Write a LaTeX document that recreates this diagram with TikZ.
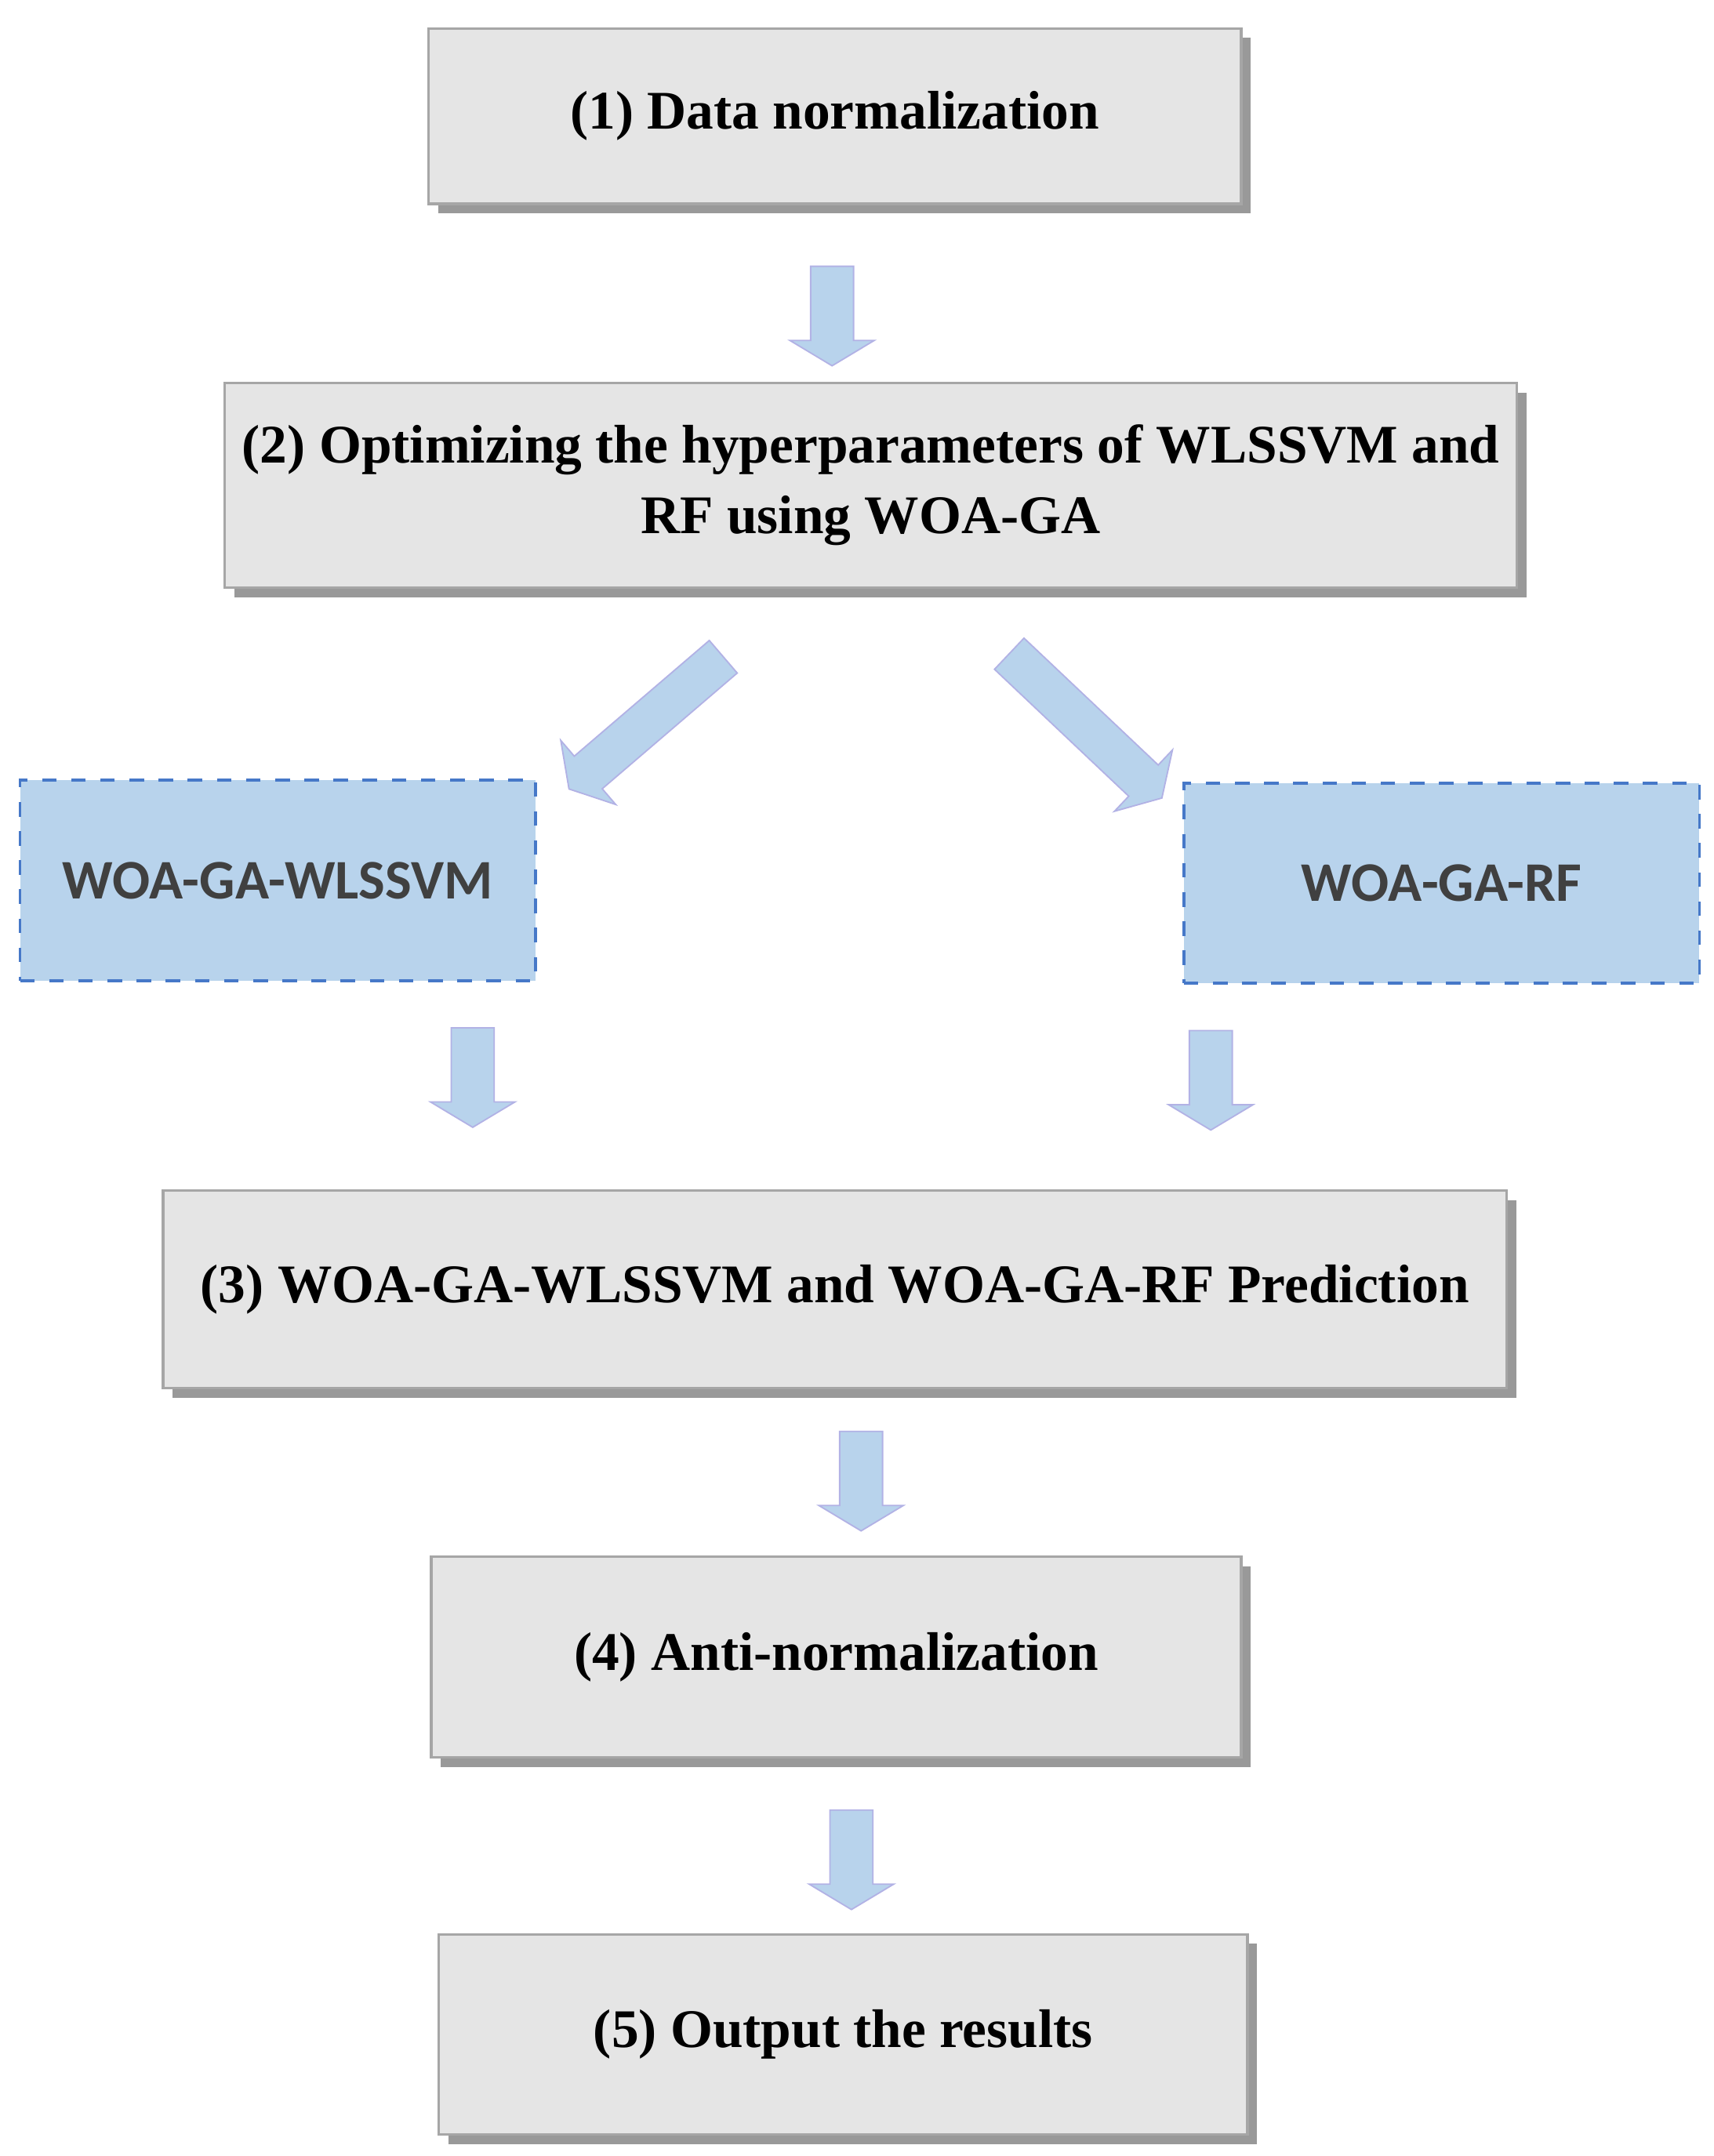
\documentclass[tikz,border=0pt]{standalone}
\usepackage{fontspec}
\setmainfont{Liberation Serif}
\newfontfamily\calib{Carlito}
\usetikzlibrary{shapes.arrows,shadows}
\definecolor{paleblue}{RGB}{184,211,236}
\definecolor{dashblue}{RGB}{70,120,200}
\begin{document}
\begin{tikzpicture}
  [
    x=0.1mm, y=-0.1mm,
    stage/.style={rectangle,draw=gray!70,fill=gray!20,line width=0.5pt,inner sep=1mm,
      font=\bfseries\fontsize{11.2}{14.5}\selectfont,align=center,
      drop shadow={shadow xshift=0.7mm,shadow yshift=-0.7mm,fill=gray!80,opacity=1}},
    model/.style={rectangle,draw=dashblue,dashed,line width=0.6pt,
      fill=paleblue,font=\calib\bfseries\fontsize{11.5}{14}\selectfont,
      text=black!75,minimum width=37.3mm,minimum height=14.5mm},
    flow/.style={single arrow,draw=gray!50!blue!40,fill=paleblue,
      inner sep=1.5mm,single arrow head extend=1.5mm,single arrow tip angle=118,
      minimum height=7.2mm,line width=0.3pt}
  ]
  \useasboundingbox (0,0) rectangle (1240,1560);
  % stages
  \node[stage,minimum width=58.8mm,minimum height=12.7mm] (norm) at (604,84) {(1) Data normalization};
  \node[stage,minimum width=93.5mm,minimum height=14.8mm] (optim) at (630,351)
    {(2) Optimizing the hyperparameters of WLSSVM and\\RF using WOA-GA};
  \node[model] (wlssvm) at (201,637) {WOA-GA-WLSSVM};
  \node[model] (rf) at (1043,639) {WOA-GA-RF};
  \node[stage,minimum width=97.2mm,minimum height=14.3mm] (pred) at (604,933)
    {(3) WOA-GA-WLSSVM and WOA-GA-RF Prediction};
  \node[stage,minimum width=58.6mm,minimum height=14.5mm] (anti) at (605,1199) {(4) Anti-normalization};
  \node[stage,minimum width=58.5mm,minimum height=14.5mm] (out) at (610,1472) {(5) Output the results};
  % arrows
  \node[flow,rotate=-90] (a1) at (602,224) {};
  \node[flow,rotate=220.6,minimum height=14.7mm] (a2) at (471,520) {};
  \node[flow,rotate=-43.4,minimum height=15.2mm] (a3) at (782,522) {};
  \node[flow,rotate=-90] (a4) at (342,775) {};
  \node[flow,rotate=-90] (a5) at (876,777) {};
  \node[flow,rotate=-90] (a6) at (623,1067) {};
  \node[flow,rotate=-90] (a7) at (616,1341) {};
\end{tikzpicture}
\end{document}
